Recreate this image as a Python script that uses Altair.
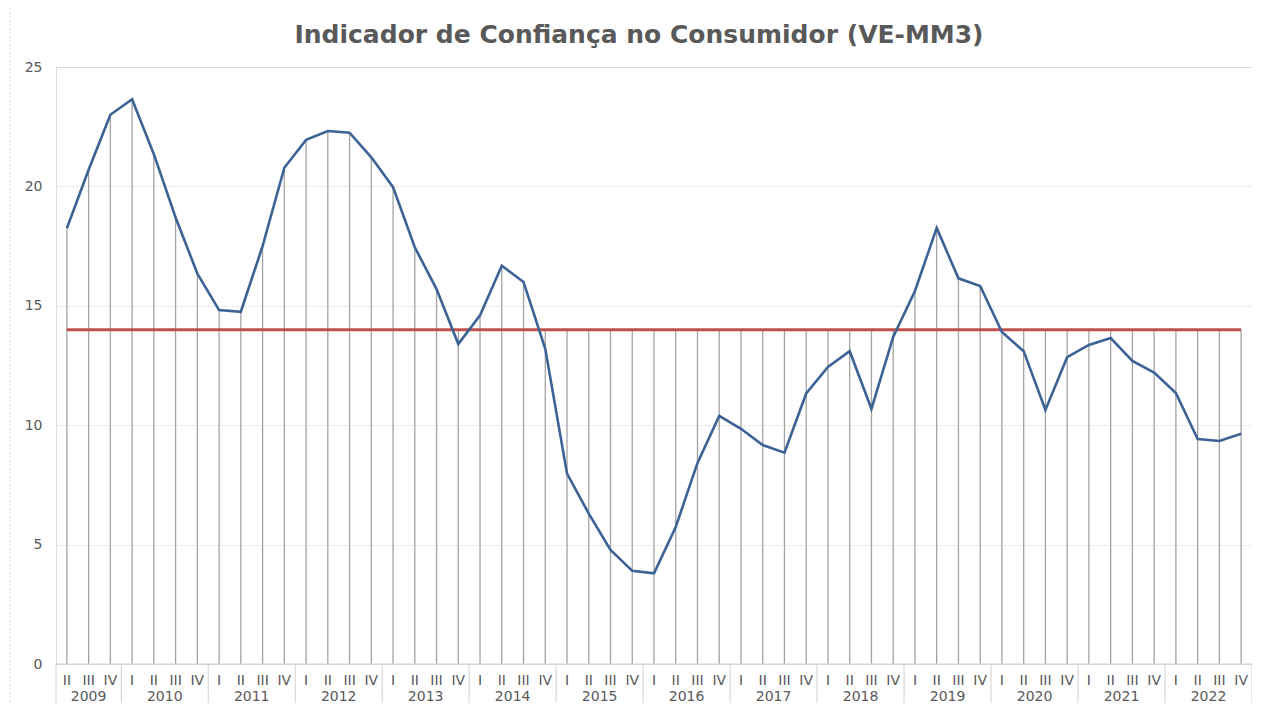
import altair as alt
import pandas as pd

TITLE = "Indicador de Confiança no Consumidor (VE-MM3)"

years = (["2009"] * 3 + ["2010"] * 4 + ["2011"] * 4 + ["2012"] * 4 + ["2013"] * 4
         + ["2014"] * 4 + ["2015"] * 4 + ["2016"] * 4 + ["2017"] * 4 + ["2018"] * 4
         + ["2019"] * 4 + ["2020"] * 4 + ["2021"] * 4 + ["2022"] * 4)
quarters = (["II", "III", "IV"]
            + ["I", "II", "III", "IV"] + ["I", "II", "III", "IV"] + ["I", "II", "III", "IV"]
            + ["I", "II", "III", "IV"] + ["I", "II", "III", "IV"] + ["I", "II", "III", "IV"]
            + ["I", "II", "III", "IV"] + ["I", "II", "III", "IV"] + ["I", "II", "III", "IV"]
            + ["I", "II", "III", "IV"] + ["I", "II", "III", "IV"] + ["I", "II", "III", "IV"]
            + ["I", "II", "III", "IV"])
values = [18.25, 20.7, 23.0, 23.65,
          21.35, 18.7, 16.35, 14.82,
          14.75, 17.5, 20.78, 21.95,
          22.32, 22.25, 21.22, 19.97,
          17.45, 15.7, 13.4, 14.6,
          16.68, 16.0, 13.2, 7.97,
          6.3, 4.78, 3.9, 3.8,
          5.74, 8.42, 10.39, 9.85,
          9.17, 8.85, 11.33, 12.44,
          13.1, 10.68, 13.7, 15.62,
          18.26, 16.15, 15.83, 13.9,
          13.1, 10.64, 12.85, 13.36,
          13.65, 12.69, 12.2, 11.35,
          9.42, 9.34, 9.64]
MEDIA = 14.0
y_ticks = [0, 5, 10, 15, 20, 25]

W = 1196
H = 597
PAD_L, PAD_T, PAD_R, PAD_B = 48, 59, 0, 39
FONT = "DejaVu Sans"
GREY = "#595959"

df = pd.DataFrame({"i": list(range(len(values))), "ano": years, "tri": quarters,
                   "v": values})
df["media"] = MEDIA

# year groups: centre and boundaries taken from the category lists
grp = df.groupby("ano", sort=False)["i"].agg(["min", "max"]).reset_index()
grp["centro"] = (grp["min"] + grp["max"]) / 2
bounds = pd.DataFrame({"b": [grp["min"].iloc[0] - 0.5] + list(grp["max"] + 0.5)})

xs = alt.Scale(domain=[-0.5, len(values) - 0.5], nice=False, zero=False)
ys = alt.Scale(domain=[0, 25], nice=False)

base = alt.Chart(df)

drops = base.transform_calculate(top="max(datum.v, datum.media)").mark_rule(
    color="#a3a3a3", strokeWidth=1.3
).encode(
    x=alt.X("i:Q", scale=xs, axis=None),
    y=alt.Y("top:Q", scale=ys,
            axis=alt.Axis(values=y_ticks, grid=True, gridColor="#d9d9d9",
                          gridDash=[2, 2], gridWidth=1, ticks=False, domain=False,
                          labelPadding=14, labelFont=FONT, labelFontSize=14,
                          labelColor=GREY, title=None)),
    y2=alt.datum(0),
)

baseline = alt.Chart(pd.DataFrame({"z": [0]})).mark_rule(color="#d0d0d0", strokeWidth=1).encode(
    y=alt.Y("z:Q", scale=ys), x=alt.value(0), x2=alt.value(W)
)

red = base.mark_line(color="#c0504d", strokeWidth=3).encode(
    x=alt.X("i:Q", scale=xs), y=alt.Y("media:Q", scale=ys)
)

blue = base.mark_line(color="#3c6296", strokeWidth=2.6).encode(
    x=alt.X("i:Q", scale=xs), y=alt.Y("v:Q", scale=ys)
)

qlab = base.mark_text(font=FONT, fontSize=14, color=GREY, baseline="alphabetic").encode(
    x=alt.X("i:Q", scale=xs), y=alt.value(H + 21), text="tri:N"
)

ylab = alt.Chart(grp).mark_text(font=FONT, fontSize=14, color=GREY, baseline="alphabetic").encode(
    x=alt.X("centro:Q", scale=xs), y=alt.value(H + 37), text="ano:N"
)

seps = alt.Chart(bounds).mark_rule(color="#d0d0d0", strokeWidth=1).encode(
    x=alt.X("b:Q", scale=xs), y=alt.value(H), y2=alt.value(H + PAD_B)
)

border = alt.Chart(pd.DataFrame({"k": [0]})).mark_rule(
    color="#d9d9d9", strokeWidth=1, strokeDash=[2, 2]
).encode(x=alt.value(-46), y=alt.value(-PAD_T), y2=alt.value(H + PAD_B))

title = alt.Chart(pd.DataFrame({"t": [TITLE]})).mark_text(
    font=FONT, fontSize=25, fontWeight="bold", color=GREY, baseline="alphabetic", align="center"
).encode(x=alt.value(583), y=alt.value(-24), text="t:N")

chart = alt.layer(drops, baseline, red, blue, qlab, ylab, seps, border, title).properties(
    width=W, height=H,
    autosize=alt.AutoSizeParams(type="none"),
    padding={"left": PAD_L, "top": PAD_T, "right": PAD_R, "bottom": PAD_B},
).configure_view(stroke=None).configure(background="white")

chart.save("out.html", embed_options={"renderer": "svg", "actions": False})
